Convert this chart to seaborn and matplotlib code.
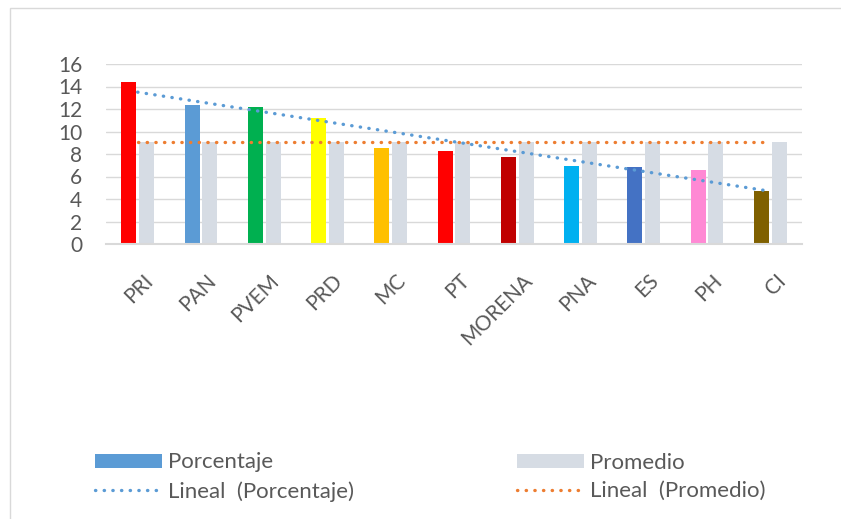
import numpy as np
import pandas as pd
import matplotlib
matplotlib.use("Agg")
import matplotlib.pyplot as plt
import matplotlib.transforms as mtransforms
import seaborn as sns
from matplotlib.patches import Patch, Rectangle
from matplotlib.lines import Line2D

# data
partidos = ["PRI", "PAN", "PVEM", "PRD", "MC", "PT", "MORENA", "PNA", "ES", "PH", "CI"]
porcentaje = [14.43, 12.38, 12.20, 11.23, 8.56, 8.29, 7.76, 6.96, 6.87, 6.60, 4.73]
promedio = [9.09] * 11
colores = ["#FF0000", "#5B9BD5", "#00B050", "#FFFF00", "#FFC000", "#FF0000",
           "#C00000", "#00B0F0", "#4472C4", "#FF89D4", "#7F6000"]

gris = "#D6DCE4"
azul = "#5B9BD5"
naranja = "#ED7D31"
texto = "#595959"
punteado = (0, (0.1, 2.5))

df = pd.DataFrame({
    "Partido": partidos * 2,
    "Valor": porcentaje + promedio,
    "Serie": ["Porcentaje"] * 11 + ["Promedio"] * 11,
})

sns.set_style("white")
plt.rcParams["font.family"] = ["Lato", "DejaVu Sans"]

fig = plt.figure(figsize=(8.41, 5.19), dpi=100)
ax = fig.add_axes([106 / 841, (519 - 244) / 519, (802 - 106) / 841, (244 - 64) / 519])

sns.barplot(data=df, x="Partido", y="Valor", hue="Serie", order=partidos,
            palette={"Porcentaje": azul, "Promedio": gris}, width=0.56,
            gap=0.0, legend=False, ax=ax, saturation=1)

# per-party colours and a small gap between the two bars
bw = 0.237
for p in ax.patches[:22]:
    c = p.get_x() + p.get_width() / 2
    p.set_x(c - bw / 2)
    p.set_width(bw)
    p.set_linewidth(0)
for i, p in enumerate(ax.patches[:11]):
    p.set_facecolor(colores[i])

# linear trend lines (Excel "Lineal")
x = np.arange(len(partidos))
for vals, col in [(porcentaje, azul), (promedio, naranja)]:
    m, b = np.polyfit(x, vals, 1)
    ax.plot(x, m * x + b, color=col, lw=2.4, linestyle=punteado,
            dash_capstyle="round", zorder=5)

ax.set_xlim(-0.5, len(partidos) - 0.5)
ax.set_ylim(0, 16)
ax.set_yticks(range(0, 17, 2))
ax.yaxis.grid(True, color="#D9D9D9", lw=1.0)
ax.set_axisbelow(True)
for s in ["top", "right", "left"]:
    ax.spines[s].set_visible(False)
ax.spines["bottom"].set_color("#D9D9D9")
ax.spines["bottom"].set_linewidth(1.5)
ax.set_xlabel("")
ax.set_ylabel("")
ax.tick_params(axis="y", length=0, pad=17, labelsize=15, labelcolor=texto)
ax.tick_params(axis="x", length=0, pad=19, labelsize=15, labelcolor=texto)
shift = mtransforms.ScaledTranslation(5 / 100, 0, fig.dpi_scale_trans)
for lbl in ax.get_xticklabels():
    lbl.set_rotation(45)
    lbl.set_ha("right")
    lbl.set_va("top")
    lbl.set_rotation_mode("anchor")
    lbl.set_transform(lbl.get_transform() + shift)

# legend in two columns below the plot
h_porc = [Patch(facecolor=azul, edgecolor="none"),
          Line2D([], [], color=azul, lw=2.4, linestyle=punteado, dash_capstyle="round")]
h_prom = [Patch(facecolor=gris, edgecolor="none"),
          Line2D([], [], color=naranja, lw=2.4, linestyle=punteado, dash_capstyle="round")]
kw = dict(frameon=False, fontsize=16, labelcolor=texto, handlelength=3.0,
          handleheight=0.6, handletextpad=0.27, labelspacing=0.38, borderpad=0,
          borderaxespad=0, loc="center left")
fig.legend(h_porc, ["Porcentaje", "Lineal  (Porcentaje)"],
           bbox_to_anchor=(95 / 841, 1 - 477 / 519), **kw)
fig.legend(h_prom, ["Promedio", "Lineal  (Promedio)"],
           bbox_to_anchor=(517 / 841, 1 - 477 / 519), **kw)

# chart frame (only top/left edges visible in the reference)
fig.patches.append(Rectangle((10 / 841, -0.1), 1.2, 1 - 8 / 519 + 0.1,
                             transform=fig.transFigure, fill=False,
                             edgecolor="#D9D9D9", lw=1.0))

fig.savefig("out.png", dpi=100)
